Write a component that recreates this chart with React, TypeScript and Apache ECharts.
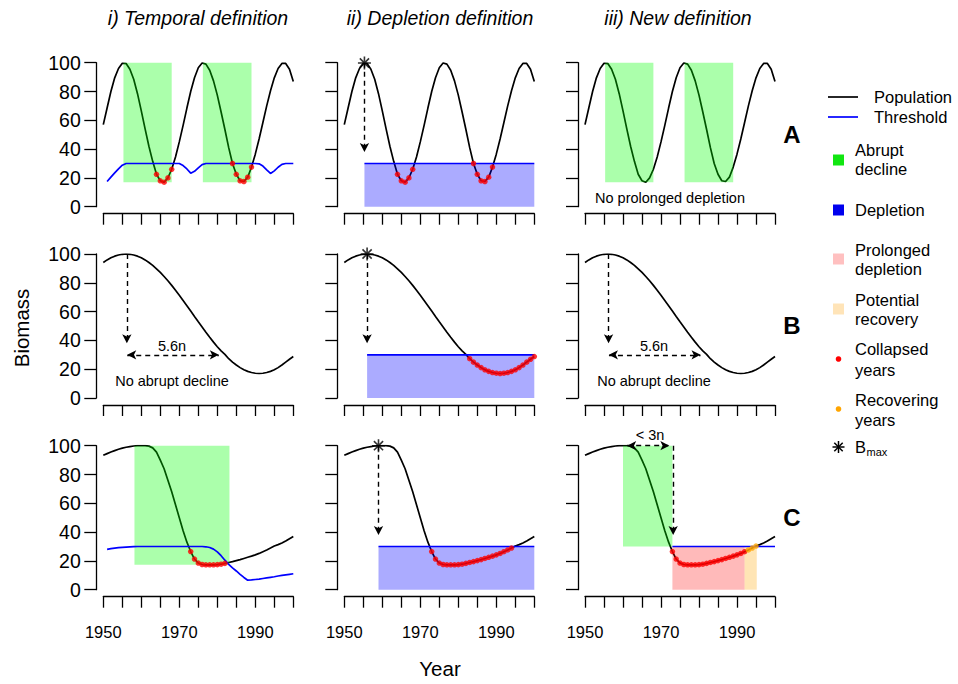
import React, { useEffect, useRef } from "react";
import * as echarts from "echarts";

const START = 1950;
const FONT = "'Liberation Sans', Arial, Helvetica, sans-serif";

// Population trajectories (annual values 1950..2000)
const popA = [57, 68.5, 80, 89.5, 96, 99.6, 99.4, 95.5, 88.5, 78.5,
  66.5, 54, 42, 31.5, 22.5, 18, 17, 20, 26, 34.5,
  45, 56.5, 68.5, 80, 89.5, 96.5, 99.8, 99, 94.8, 87.4,
  77.5, 65.8, 53.6, 41, 30, 22.5, 18, 17.5, 20.5, 27.5,
  36.5, 47, 58.5, 70, 80.5, 89.5, 96, 99.5, 99.5, 95.5,
  87];
const popB = [94.1, 95.9, 97.4, 98.5, 99.3, 99.8, 100, 99.8, 99.3, 98.5,
  97.4, 95.9, 94.1, 92.1, 89.7, 87.2, 84.4, 81.4, 78.2, 74.8,
  71.3, 67.7, 64.1, 60.4, 56.6, 52.9, 49.3, 45.7, 42.2, 38.8,
  35.6, 32.7, 30.3, 27.3, 24.9, 22.9, 21.1, 19.6, 18.5, 17.7,
  17.2, 17.0, 17.2, 17.7, 18.5, 19.6, 21.1, 22.9, 24.9, 26.9,
  28.8];
const popC = [93.3, 94.5, 95.6, 96.6, 97.5, 98.3, 98.9, 99.4, 99.8, 100,
  100, 100, 99.7, 98.5, 95.5, 90, 84, 76, 68, 59,
  50, 41, 33, 26.5, 21.3, 18.5, 17.5, 17.3, 17.3, 17.3,
  17.4, 17.7, 18.3, 18.9, 19.5, 20.2, 20.9, 21.7, 22.5, 23.3,
  24.2, 25.2, 26.4, 27.6, 28.9, 30.3, 31.3, 32.4, 33.8, 35.4,
  37];

// Temporal-definition thresholds (column i)
const thrA = [null, 17.5, 20.5, 23.5, 26.3, 28.8, 30, 30, 30, 30,
  30, 30, 30, 30, 30, 30, 30, 30, 30, 30,
  30, 28.6, 26.2, 23.3, 24.6, 27, 29.2, 30, 30, 30,
  30, 30, 30, 30, 30, 30, 30, 30, 30, 30,
  30, 29.8, 28.2, 25.6, 23.1, 24.9, 27.4, 29.4, 30, 30,
  30];
const thrC = [null, 28, 28.5, 28.9, 29.2, 29.4, 29.6, 29.75, 29.9, 30,
  30, 30, 30, 30, 30, 30, 30, 30, 30, 30,
  30, 30, 30, 30, 30, 30, 30, 29.8, 29.3, 28.2,
  26.3, 23.6, 20.5, 17.6, 15.2, 13, 10.7, 8.5, 6.6, 6.8,
  7.1, 7.4, 7.8, 8.2, 8.6, 9, 9.5, 9.9, 10.3, 10.7,
  11.1];

// Depletion threshold level and B_max years
const depletionLevel = 30;
const bmaxYearA = 1955.3;
const bmaxYearB = 1956;
const bmaxYearC = 1959;

// Shaded periods: [yearFrom, yearTo, biomassFrom, biomassTo]
const abruptA = [[1955.3, 1968, 17, 100], [1976.2, 1989, 17, 100]];
const abruptC1 = [[1958.2, 1983.2, 17.3, 100]];
const abruptC3 = [[1960, 1973, 30, 100]];
const depletionA2 = [[1955.3, 2000, 0, 30]];
const depletionB2 = [[1956, 2000, 0, 30]];
const depletionC2 = [[1959, 2000, 0, 30]];
const prolongedC3 = [[1973, 1992, 0, 30]];
const recoveryC3 = [[1992, 1995.2, 0, 30]];

// Collapsed / recovering years
const collapsedA = [1964, 1965, 1966, 1967, 1968, 1984, 1985, 1986, 1987, 1988, 1989];
const collapsedB2 = [1983, 1984, 1985, 1986, 1987, 1988, 1989, 1990, 1991, 1992, 1993, 1994, 1995, 1996, 1997, 1998, 1999, 2000];
const collapsedC1 = [1973, 1974, 1975, 1976, 1977, 1978, 1979, 1980, 1981, 1982];
const collapsedC2 = [1973, 1974, 1975, 1976, 1977, 1978, 1979, 1980, 1981, 1982, 1983, 1984, 1985, 1986, 1987, 1988, 1989, 1990, 1991, 1992, 1993, 1994];
const collapsedC3 = [1973, 1974, 1975, 1976, 1977, 1978, 1979, 1980, 1981, 1982, 1983, 1984, 1985, 1986, 1987, 1988, 1989, 1990, 1991, 1992];
const recoveringC3 = [1993, 1994, 1995];

// Arrows: [x1, y1, x2, y2, doubleHeaded]
const arrowsA2 = [[1955.3, 100, 1955.3, 38, 0]];
const arrowsB1 = [[1956.2, 100, 1956.2, 38, 0], [1956.3, 30, 1980.4, 30, 1]];
const arrowsB2 = [[1956, 100, 1956, 38, 0]];
const arrowsB3 = [[1956.2, 100, 1956.2, 38, 0], [1956.3, 30, 1980.4, 30, 1]];
const arrowsC2 = [[1959, 100, 1959, 38, 0]];
const arrowsC3 = [[1961.1, 100, 1972.2, 100, 1], [1973.2, 100, 1973.2, 38, 0]];

const xTicks = { min: 1950, max: 2000, interval: 5 };
const yTicks = { min: 0, max: 100, interval: 20 };

const RECT_COLORS = ["rgba(0,255,0,0.33)", "rgba(0,0,255,0.33)", "rgba(255,0,0,0.27)", "rgba(255,165,0,0.29)"];

const colLeft = [103.3, 344.3, 585];
const rowTop = [62.7, 254, 445.7];
const GW = 190;
const GH = 144;

type Panel = {
  pop: number[];
  thr?: (number | null)[];
  flatThr?: number;
  rects: number[][][];
  collapsed: number[];
  recovering: number[];
  bmax?: number;
  arrows: number[][];
};

const panels: Panel[] = [
  { pop: popA, thr: thrA, rects: [abruptA, [], [], []], collapsed: collapsedA, recovering: [], arrows: [] },
  { pop: popA, flatThr: bmaxYearA, rects: [[], depletionA2, [], []], collapsed: collapsedA, recovering: [], bmax: bmaxYearA, arrows: arrowsA2 },
  { pop: popA, rects: [abruptA, [], [], []], collapsed: [], recovering: [], arrows: [] },
  { pop: popB, rects: [[], [], [], []], collapsed: [], recovering: [], arrows: arrowsB1 },
  { pop: popB, flatThr: bmaxYearB, rects: [[], depletionB2, [], []], collapsed: collapsedB2, recovering: [], bmax: bmaxYearB, arrows: arrowsB2 },
  { pop: popB, rects: [[], [], [], []], collapsed: [], recovering: [], arrows: arrowsB3 },
  { pop: popC, thr: thrC, rects: [abruptC1, [], [], []], collapsed: collapsedC1, recovering: [], arrows: [] },
  { pop: popC, flatThr: bmaxYearC, rects: [[], depletionC2, [], []], collapsed: collapsedC2, recovering: [], bmax: bmaxYearC, arrows: arrowsC2 },
  { pop: popC, flatThr: 1973, rects: [abruptC3, [], prolongedC3, recoveryC3], collapsed: collapsedC3, recovering: recoveringC3, arrows: arrowsC3 },
];

const STAR = "path://M0 -10 L0 10 M-10 0 L10 0 M-7.07 -7.07 L7.07 7.07 M-7.07 7.07 L7.07 -7.07";

function buildOption() {
  const grid: any[] = [];
  const xAxis: any[] = [];
  const yAxis: any[] = [];
  const series: any[] = [];
  const axisLineStyle = { color: "#000", width: 1.3 };

  panels.forEach((p, i) => {
    const r = Math.floor(i / 3);
    const c = i % 3;
    grid.push({ left: colLeft[c], top: rowTop[r], width: GW, height: GH });
    xAxis.push({
      gridIndex: i, type: "value", ...xTicks, offset: 7,
      axisLine: { show: true, onZero: false, lineStyle: axisLineStyle },
      axisTick: { show: true, length: 11, lineStyle: axisLineStyle },
      splitLine: { show: false },
      axisLabel: {
        show: r === 2, margin: 27, fontSize: 16.5, color: "#000", fontFamily: FONT,
        formatter: (v: number) => (v % 20 === 10 ? String(v) : ""),
      },
    });
    yAxis.push({
      gridIndex: i, type: "value", ...yTicks, offset: 7,
      axisLine: { show: true, onZero: false, lineStyle: axisLineStyle },
      axisTick: { show: true, length: 12, lineStyle: axisLineStyle },
      splitLine: { show: false },
      axisLabel: { show: c === 0, margin: 15.5, fontSize: 19.5, color: "#000", fontFamily: FONT },
    });

    series.push({
      type: "line", xAxisIndex: i, yAxisIndex: i, z: 2, silent: true,
      data: p.pop.map((v, k) => [START + k, v]),
      symbol: "none", lineStyle: { color: "#000", width: 1.7 },
    });

    const rectData: number[][] = [];
    p.rects.forEach((list, ci) => list.forEach((rc) => rectData.push([rc[0], rc[1], rc[2], rc[3], ci])));
    if (rectData.length) {
      series.push({
        type: "custom", xAxisIndex: i, yAxisIndex: i, z: 3, silent: true,
        data: rectData,
        renderItem: (_params: any, api: any) => {
          const a = api.coord([api.value(0), api.value(3)]);
          const b = api.coord([api.value(1), api.value(2)]);
          return {
            type: "rect",
            shape: { x: a[0], y: a[1], width: b[0] - a[0], height: b[1] - a[1] },
            style: { fill: RECT_COLORS[api.value(4)] },
          };
        },
      });
    }

    if (p.thr) {
      series.push({
        type: "line", xAxisIndex: i, yAxisIndex: i, z: 4, silent: true,
        data: p.thr.map((v, k) => [START + k, v]).filter((d) => d[1] !== null),
        symbol: "none", lineStyle: { color: "#0000ff", width: 1.7 },
      });
    }
    if (p.flatThr !== undefined) {
      series.push({
        type: "line", xAxisIndex: i, yAxisIndex: i, z: 4, silent: true,
        data: [[p.flatThr, depletionLevel], [2000, depletionLevel]],
        symbol: "none", lineStyle: { color: "#0000ff", width: 1.7 },
      });
    }

    if (p.collapsed.length) {
      series.push({
        type: "scatter", xAxisIndex: i, yAxisIndex: i, z: 5, silent: true,
        data: p.collapsed.map((y) => [y, p.pop[y - START]]),
        symbolSize: 5.5, itemStyle: { color: "#ff0000" },
      });
    }
    if (p.recovering.length) {
      series.push({
        type: "scatter", xAxisIndex: i, yAxisIndex: i, z: 5, silent: true,
        data: p.recovering.map((y) => [y, p.pop[y - START]]),
        symbolSize: 5.5, itemStyle: { color: "#ffa500" },
      });
    }

    if (p.bmax !== undefined) {
      series.push({
        type: "scatter", xAxisIndex: i, yAxisIndex: i, z: 6, silent: true,
        data: [[p.bmax, Math.max(...p.pop)]],
        symbol: STAR, symbolSize: 13,
        itemStyle: { color: "rgba(0,0,0,0)", borderColor: "#000", borderWidth: 1.6 },
      });
    }

    if (p.arrows.length) {
      series.push({
        type: "line", xAxisIndex: i, yAxisIndex: i, z: 6, silent: true, data: [],
        markLine: {
          silent: true, animation: false,
          symbolSize: [7, 9],
          label: { show: false },
          lineStyle: { color: "#000", type: [5, 4], width: 1.4 },
          emphasis: { disabled: true },
          data: p.arrows.map((a) => [
            { coord: [a[0], a[1]], symbol: a[4] ? "arrow" : "none" },
            { coord: [a[2], a[3]], symbol: "arrow" },
          ]),
        },
      });
    }
  });

  const txt = (x: number, y: number, text: string, extra: any = {}) => ({
    type: "text", x, y, silent: true,
    style: { text, fill: "#000", fontFamily: FONT, fontSize: 16.5, align: "left", verticalAlign: "middle", ...extra },
  });

  const graphic: any[] = [
    txt(198, 18, "i) Temporal definition", { align: "center", fontSize: 19.5, fontStyle: "italic" }),
    txt(440, 18, "ii) Depletion definition", { align: "center", fontSize: 19.5, fontStyle: "italic" }),
    txt(678, 18, "iii) New definition", { align: "center", fontSize: 19.5, fontStyle: "italic" }),
    txt(792, 134, "A", { align: "center", fontSize: 24, fontWeight: "bold" }),
    txt(792, 325, "B", { align: "center", fontSize: 24, fontWeight: "bold" }),
    txt(792, 517, "C", { align: "center", fontSize: 24, fontWeight: "bold" }),
    { ...txt(21, 328, "Biomass", { align: "center", fontSize: 20.5 }), rotation: Math.PI / 2 },
    txt(440, 668, "Year", { align: "center", fontSize: 20.5 }),
    txt(670, 198, "No prolonged depletion", { align: "center", fontSize: 14.5 }),
    txt(172, 381, "No abrupt decline", { align: "center", fontSize: 14.5 }),
    txt(654, 381, "No abrupt decline", { align: "center", fontSize: 14.5 }),
    txt(172, 346, "5.6n", { align: "center", fontSize: 14.5 }),
    txt(654, 346, "5.6n", { align: "center", fontSize: 14.5 }),
    txt(650, 435, "< 3n", { align: "center", fontSize: 14.5 }),
    { type: "line", shape: { x1: 828, y1: 97, x2: 858, y2: 97 }, style: { stroke: "#000", lineWidth: 1.7 } },
    txt(874, 97, "Population"),
    { type: "line", shape: { x1: 828, y1: 117, x2: 858, y2: 117 }, style: { stroke: "#0000ff", lineWidth: 1.7 } },
    txt(874, 117, "Threshold"),
    { type: "rect", shape: { x: 833, y: 154.5, width: 11, height: 11 }, style: { fill: "#11e611" } },
    txt(855, 150, "Abrupt"), txt(855, 169, "decline"),
    { type: "rect", shape: { x: 833, y: 204.5, width: 11, height: 11 }, style: { fill: "#0000ee" } },
    txt(855, 210, "Depletion"),
    { type: "rect", shape: { x: 833, y: 253.5, width: 11, height: 11 }, style: { fill: "#ffc0c0" } },
    txt(855, 250, "Prolonged"), txt(855, 269, "depletion"),
    { type: "rect", shape: { x: 833, y: 303.5, width: 11, height: 11 }, style: { fill: "#ffe4b8" } },
    txt(855, 300, "Potential"), txt(855, 319, "recovery"),
    { type: "circle", shape: { cx: 838.5, cy: 359, r: 2.8 }, style: { fill: "#ff0000" } },
    txt(855, 349, "Collapsed"), txt(855, 370, "years"),
    { type: "circle", shape: { cx: 838.5, cy: 409, r: 2.8 }, style: { fill: "#ffa500" } },
    txt(855, 400, "Recovering"), txt(855, 420, "years"),
    { type: "line", shape: { x1: 838.5, y1: 441, x2: 838.5, y2: 453 }, style: { stroke: "#000", lineWidth: 1.5 } },
    { type: "line", shape: { x1: 832.5, y1: 447, x2: 844.5, y2: 447 }, style: { stroke: "#000", lineWidth: 1.5 } },
    { type: "line", shape: { x1: 834.3, y1: 442.8, x2: 842.7, y2: 451.2 }, style: { stroke: "#000", lineWidth: 1.5 } },
    { type: "line", shape: { x1: 834.3, y1: 451.2, x2: 842.7, y2: 442.8 }, style: { stroke: "#000", lineWidth: 1.5 } },
    txt(855, 447, "B"),
    txt(866.5, 452, "max", { fontSize: 11 }),
  ];

  return { animation: false, backgroundColor: "#fff", grid, xAxis, yAxis, series, graphic };
}

export default function App() {
  const ref = useRef<HTMLDivElement>(null);
  useEffect(() => {
    if (!ref.current) return;
    const chart = echarts.init(ref.current, null, { renderer: "svg" });
    chart.setOption(buildOption() as any);
    return () => chart.dispose();
  }, []);
  return <div ref={ref} style={{ position: "absolute", left: 0, top: 0, width: 958, height: 684 }} />;
}
